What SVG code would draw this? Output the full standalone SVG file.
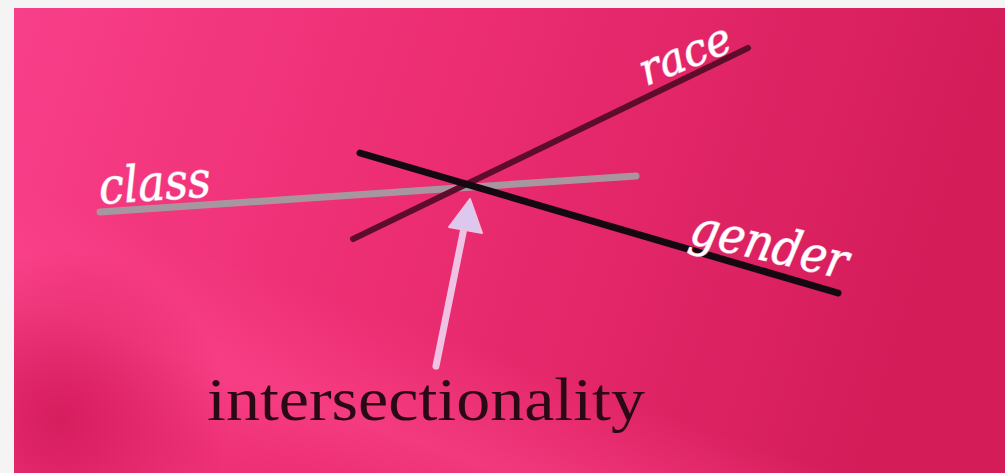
<svg xmlns="http://www.w3.org/2000/svg" width="1005" height="473" viewBox="0 0 1005 473">
  <defs>
    <linearGradient id="bg" x1="0" y1="0" x2="1" y2="0.15">
      <stop offset="0" stop-color="#f83f89"/>
      <stop offset="0.45" stop-color="#ec2d72"/>
      <stop offset="1" stop-color="#d41c59"/>
    </linearGradient>
    <radialGradient id="dark" cx="60" cy="420" r="170" gradientUnits="userSpaceOnUse">
      <stop offset="0" stop-color="#d31a5a" stop-opacity="0.9"/>
      <stop offset="1" stop-color="#d31a5a" stop-opacity="0"/>
    </radialGradient>
    <linearGradient id="band" x1="0" y1="1" x2="0.6" y2="0.2">
      <stop offset="0.15" stop-color="#ff4a90" stop-opacity="0"/>
      <stop offset="0.3" stop-color="#ff4a90" stop-opacity="0.5"/>
      <stop offset="0.5" stop-color="#ff4a90" stop-opacity="0"/>
    </linearGradient>
    <style>
      .lbl { font-family: "DejaVu Serif", "Liberation Serif", serif; font-style: italic; font-size: 50px; fill: #ffffff; stroke: #f3a9c8; stroke-width: 1.2px; paint-order: stroke; }
      .main { font-family: "Liberation Serif", "DejaVu Serif", serif; font-size: 62px; fill: #2a0915; }
    </style>
  </defs>
  <rect x="0" y="0" width="1005" height="473" fill="#f4f4f4"/>
  <rect x="14" y="8" width="991" height="465" fill="url(#bg)"/>
  <rect x="14" y="8" width="991" height="465" fill="url(#band)"/>
  <rect x="14" y="8" width="991" height="465" fill="url(#dark)"/>

  <g id="connectors" stroke-linecap="round">
    <line id="class-line" x1="100" y1="212" x2="636" y2="176" stroke="#a8969f" stroke-width="7"/>
    <line id="race-line" x1="353" y1="239" x2="748" y2="48" stroke="#5e0c2b" stroke-width="6"/>
    <line id="gender-line" x1="360" y1="153" x2="838" y2="293" stroke="#160810" stroke-width="7"/>
    <g id="arrow">
      <line x1="436" y1="366" x2="464" y2="228" stroke="#efc2e4" stroke-width="7"/>
      <polygon points="470,199 449,227 482,233" fill="#dcc8ee" stroke="#efc2e4" stroke-width="2" stroke-linejoin="round"/>
    </g>
  </g>

  <g id="class"><text class="lbl" x="100" y="204" textLength="112" lengthAdjust="spacingAndGlyphs" transform="rotate(-4 100 204)">class</text></g>
  <g id="race"><text class="lbl" x="646" y="86" font-size="44" style="font-size:44px" textLength="96" lengthAdjust="spacingAndGlyphs" transform="rotate(-22 646 86)">race</text></g>
  <g id="gender"><text class="lbl" x="688" y="243" textLength="160" lengthAdjust="spacingAndGlyphs" transform="rotate(13 688 243)">gender</text></g>
  <g id="intersectionality"><text class="main" x="207" y="420" textLength="438" lengthAdjust="spacingAndGlyphs">intersectionality</text></g>
</svg>
